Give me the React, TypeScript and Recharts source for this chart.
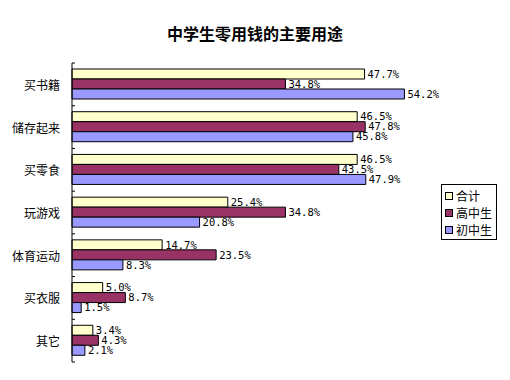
import React from 'react';
import { BarChart, Bar, XAxis, YAxis, LabelList } from 'recharts';

const categories = ['买书籍', '储存起来', '买零食', '玩游戏', '体育运动', '买衣服', '其它'];
const totalValues = [47.7, 46.5, 46.5, 25.4, 14.7, 5.0, 3.4];
const seniorValues = [34.8, 47.8, 43.5, 34.8, 23.5, 8.7, 4.3];
const juniorValues = [54.2, 45.8, 47.9, 20.8, 8.3, 1.5, 2.1];
const seriesNames = ['合计', '高中生', '初中生'];
const title = '中学生零用钱的主要用途';

const data = categories.map((c, i) => ({
  name: c,
  total: totalValues[i],
  senior: seniorValues[i],
  junior: juniorValues[i],
}));

const W = 510;
const H = 380;
const AXIS_X = 72;
const TOP = 63;
const BOTTOM = 362;
const PLOT_H = BOTTOM - TOP;
const RIGHT = 440;
const COLORS = ['#FFFFCC', '#993366', '#9999FF'];
const CJK = '"Noto Sans CJK SC", "Noto Sans", sans-serif';
const MONO = '"DejaVu Sans Mono", "Liberation Mono", monospace';

const CatTick = (props: any) => {
  const { y, payload, index } = props;
  const half = PLOT_H / categories.length / 2;
  return (
    <g>
      <text x={AXIS_X - 12} y={y} textAnchor="end" dominantBaseline="central" fontSize={12} fontFamily={CJK} fill="#000">
        {payload.value}
      </text>
      <line x1={AXIS_X} x2={AXIS_X + 3} y1={y - half} y2={y - half} stroke="#000" />
      {index === categories.length - 1 && (
        <line x1={AXIS_X} x2={AXIS_X + 3} y1={y + half} y2={y + half} stroke="#000" />
      )}
    </g>
  );
};

const LegendBox = () => (
  <div style={{ position: 'absolute', left: 441, top: 184, boxSizing: 'border-box', width: 56, height: 56, border: '1px solid #000', background: '#fff', padding: '2px 3px' }}>
    {seriesNames.map((n, i) => (
      <div key={n} style={{ display: 'flex', alignItems: 'center', height: 17, fontFamily: CJK, fontSize: 12, color: '#000' }}>
        <span style={{ display: 'inline-block', width: 6, height: 6, background: COLORS[i], border: '1px solid #000', marginRight: 3 }} />
        {n}
      </div>
    ))}
  </div>
);

const fmt = (v: any) => `${Number(v).toFixed(1)}%`;
const labelStyle = { fontFamily: MONO, fontSize: 10.5, fill: '#000' };

export default function App() {
  return (
    <div style={{ position: 'absolute', left: 0, top: 0, width: W, height: H, background: '#fff' }}>
      <div style={{ position: 'absolute', left: 0, width: W, top: 22, textAlign: 'center', fontFamily: CJK, fontWeight: 'bold', fontSize: 16, color: '#000', lineHeight: '22px' }}>
        {title}
      </div>
      <BarChart
        width={W}
        height={H}
        data={data}
        layout="vertical"
        margin={{ top: TOP, bottom: H - BOTTOM, left: 0, right: W - RIGHT }}
        barSize={10}
        barGap={0}
      >
        <XAxis type="number" domain={[0, 60]} hide />
        <YAxis
          type="category"
          dataKey="name"
          width={AXIS_X}
          axisLine={{ stroke: '#000' }}
          tickLine={false}
          tick={<CatTick />}
          interval={0}
        />
        <Bar dataKey="total" name={seriesNames[0]} fill={COLORS[0]} stroke="#000" strokeWidth={1} isAnimationActive={false}>
          <LabelList dataKey="total" position="right" offset={3} formatter={fmt} style={labelStyle} />
        </Bar>
        <Bar dataKey="senior" name={seriesNames[1]} fill={COLORS[1]} stroke="#000" strokeWidth={1} isAnimationActive={false}>
          <LabelList dataKey="senior" position="right" offset={3} formatter={fmt} style={labelStyle} />
        </Bar>
        <Bar dataKey="junior" name={seriesNames[2]} fill={COLORS[2]} stroke="#000" strokeWidth={1} isAnimationActive={false}>
          <LabelList dataKey="junior" position="right" offset={3} formatter={fmt} style={labelStyle} />
        </Bar>
      </BarChart>
      <LegendBox />
    </div>
  );
}
